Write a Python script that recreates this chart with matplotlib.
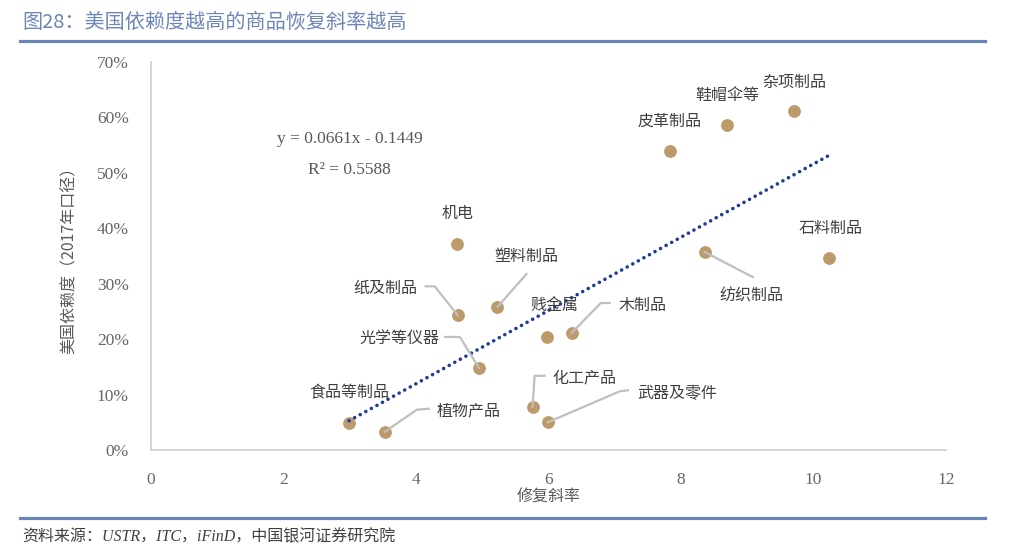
import numpy as np
import matplotlib
matplotlib.use("Agg")
import matplotlib.pyplot as plt
from matplotlib.lines import Line2D

plt.rcParams['font.family'] = ['Noto Sans CJK SC', 'DejaVu Sans']

# Data
names = ['食品等制品', '植物产品', '纸及制品', '机电', '光学等仪器', '塑料制品',
         '贱金属', '木制品', '化工产品', '武器及零件', '皮革制品', '鞋帽伞等',
         '杂项制品', '纺织制品', '石料制品']
slope = [2.99, 3.53, 4.63, 4.62, 4.95, 5.23, 5.97, 6.35, 5.76, 5.99, 7.83, 8.70,
         9.70, 8.36, 10.24]
depend = [0.048, 0.033, 0.243, 0.372, 0.148, 0.258, 0.203, 0.211, 0.078, 0.050,
          0.540, 0.586, 0.612, 0.357, 0.346]

coef_a = 0.0661
coef_b = -0.1449
r2 = 0.5588

# Layout: label offsets and leader polylines, in pixels relative to point (dx, dy up)
label_off = {
    '食品等制品': (0, 31), '植物产品': (84, 21), '纸及制品': (-72, 27), '机电': (0, 30),
    '光学等仪器': (-79, 30), '塑料制品': (29, 51), '贱金属': (8, 32), '木制品': (71, 28),
    '化工产品': (52, 29), '武器及零件': (129, 29), '皮革制品': (0, 30), '鞋帽伞等': (0, 30),
    '杂项制品': (1, 29), '纺织制品': (47, -44), '石料制品': (1, 30),
}
leaders = {
    '植物产品': [(0, 0), (32, 22), (44, 23)],
    '纸及制品': [(0, 0), (-23, 29), (-32, 29)],
    '光学等仪器': [(0, 0), (-19, 31), (-34, 31)],
    '塑料制品': [(0, 0), (29, 33)],
    '木制品': [(0, 0), (29, 30), (38, 30)],
    '化工产品': [(0, 0), (2, 31), (12, 31)],
    '武器及零件': [(0, 0), (72, 31), (80, 32)],
    '纺织制品': [(0, 0), (48, -25)],
}

fig = plt.figure(figsize=(10.15, 5.59), dpi=100)
ax = fig.add_axes([151 / 1015, 1 - 450 / 559, 795 / 1015, 388 / 559])

ax.set_xlim(0, 12)
ax.set_ylim(0, 0.70)

# leaders (drawn in display pixels)
for name, pts in leaders.items():
    i = names.index(name)
    px, py = ax.transData.transform((slope[i], depend[i]))
    xs = [px + dx for dx, dy in pts]
    ys = [py + dy for dx, dy in pts]
    fig.add_artist(Line2D(xs, ys, transform=None, color='#bfbfbf', lw=1.6, zorder=1))

ax.scatter(slope, depend, s=85, color='#bc9a6a', zorder=3, linewidths=0)

xfit = np.array([min(slope), max(slope)])
ax.plot(xfit, coef_a * xfit + coef_b, color='#1f3c96', lw=2.6,
        linestyle=(0, (0.01, 1.75)), dash_capstyle='round', zorder=4)

for i, name in enumerate(names):
    dx, dy = label_off[name]
    ax.annotate(name, (slope[i], depend[i]), xytext=(dx, dy), textcoords='offset pixels',
                ha='center', va='center', fontsize=11.5, color='#404040', zorder=5)

ax.text(3.0, 0.5617, 'y = %.4fx - %.4f' % (coef_a, -coef_b), ha='center', va='center',
        family='Liberation Serif', fontsize=12.5, color='#595959')
ax.text(3.0, 0.5058, 'R² = %.4f' % r2, ha='center', va='center',
        family='Liberation Serif', fontsize=12.5, color='#595959')

ax.set_xticks(np.arange(0, 13, 2))
ax.set_yticks(np.arange(0, 0.71, 0.1))
ax.set_yticklabels(['%d%%' % round(v * 100) for v in np.arange(0, 0.71, 0.1)])
for lab in ax.get_xticklabels() + ax.get_yticklabels():
    lab.set_family('Liberation Serif')
    lab.set_fontsize(12.5)
    lab.set_color('#666666')
ax.tick_params(length=0)
ax.tick_params(axis='x', pad=16)
ax.tick_params(axis='y', pad=16)

for s in ['top', 'right']:
    ax.spines[s].set_visible(False)
for s in ['left', 'bottom']:
    ax.spines[s].set_color('#d0d0d0')
    ax.spines[s].set_linewidth(1.3)

ax.set_xlabel('修复斜率', fontsize=11.5, color='#595959', labelpad=0)
ax.set_ylabel('美国依赖度（2017年口径）', fontsize=11.5, color='#595959', labelpad=14)

# header / footer
fig.text(22 / 1015, 1 - 22 / 559, '图28：美国依赖度越高的商品恢复斜率越高', ha='left', va='center',
         fontsize=14.5, color='#6f86b9')
fig.add_artist(Line2D([20 / 1015, 985 / 1015], [1 - 41 / 559] * 2, color='#6a84b8', lw=2.3))
fig.add_artist(Line2D([20 / 1015, 985 / 1015], [1 - 518 / 559] * 2, color='#6a84b8', lw=2.3))
fig.text(22 / 1015, 1 - 537 / 559, '资料来源：USTR，ITC，iFinD，中国银河证券研究院', ha='left',
         va='center', fontsize=11.5, color='#404040', style='italic',
         family=['Liberation Serif', 'Noto Sans CJK SC'])

fig.savefig('out.png', dpi=100)
